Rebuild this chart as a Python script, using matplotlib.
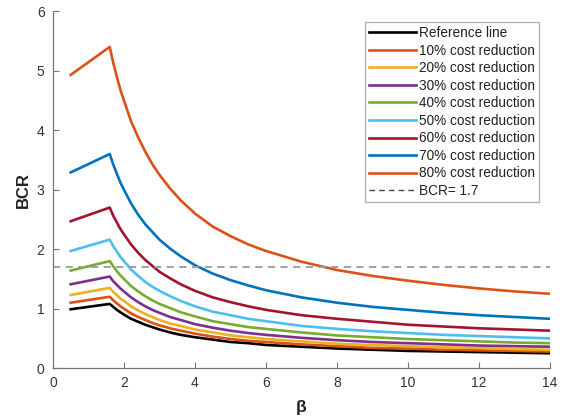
import matplotlib
matplotlib.use('Agg')
import matplotlib.pyplot as plt

plt.rcParams['font.family'] = ['Liberation Sans', 'DejaVu Sans']

# beta values where the curves were read
beta = [0.5, 1.6, 1.7, 1.8, 1.9, 2.0, 2.2, 2.4, 2.6, 2.8, 3.0, 3.3, 3.6, 4.0, 4.5,
        5, 5.5, 6, 7, 8, 9, 10, 11, 12, 13, 14]

# BCR curves
bcr_ref = [0.99, 1.08, 1.03, 0.98, 0.94, 0.90, 0.83, 0.78, 0.73, 0.69, 0.65, 0.60, 0.56, 0.52, 0.48,
           0.44, 0.42, 0.39, 0.36, 0.33, 0.31, 0.29, 0.28, 0.27, 0.26, 0.25]
bcr_10 = [1.10, 1.20, 1.14, 1.09, 1.04, 1.00, 0.92, 0.86, 0.81, 0.76, 0.72, 0.67, 0.63, 0.58, 0.53,
          0.49, 0.46, 0.44, 0.40, 0.37, 0.34, 0.33, 0.31, 0.30, 0.29, 0.28]
bcr_20 = [1.23, 1.35, 1.28, 1.23, 1.17, 1.13, 1.04, 0.97, 0.91, 0.86, 0.81, 0.75, 0.71, 0.65, 0.60,
          0.55, 0.52, 0.49, 0.45, 0.41, 0.39, 0.37, 0.35, 0.34, 0.32, 0.31]
bcr_30 = [1.41, 1.54, 1.46, 1.40, 1.34, 1.29, 1.19, 1.11, 1.04, 0.98, 0.93, 0.86, 0.81, 0.74, 0.68,
          0.63, 0.59, 0.56, 0.51, 0.47, 0.44, 0.42, 0.40, 0.38, 0.37, 0.36]
bcr_40 = [1.64, 1.80, 1.71, 1.63, 1.56, 1.50, 1.38, 1.29, 1.21, 1.14, 1.08, 1.01, 0.94, 0.87, 0.79,
          0.74, 0.69, 0.66, 0.60, 0.55, 0.52, 0.49, 0.47, 0.45, 0.43, 0.42]
bcr_50 = [1.97, 2.16, 2.05, 1.96, 1.87, 1.80, 1.66, 1.55, 1.45, 1.37, 1.30, 1.21, 1.13, 1.04, 0.95,
          0.89, 0.83, 0.79, 0.71, 0.66, 0.62, 0.59, 0.56, 0.54, 0.52, 0.50]
bcr_60 = [2.47, 2.70, 2.56, 2.45, 2.34, 2.25, 2.08, 1.94, 1.82, 1.72, 1.62, 1.51, 1.41, 1.30, 1.19,
          1.11, 1.04, 0.98, 0.89, 0.83, 0.78, 0.73, 0.70, 0.67, 0.65, 0.63]
bcr_70 = [3.29, 3.60, 3.42, 3.27, 3.12, 3.00, 2.77, 2.58, 2.42, 2.29, 2.16, 2.01, 1.88, 1.73, 1.59,
          1.48, 1.39, 1.31, 1.19, 1.10, 1.03, 0.98, 0.93, 0.89, 0.86, 0.83]
bcr_80 = [4.93, 5.40, 5.13, 4.90, 4.68, 4.50, 4.15, 3.88, 3.64, 3.43, 3.25, 3.02, 2.82, 2.60, 2.38,
          2.22, 2.08, 1.97, 1.79, 1.65, 1.55, 1.47, 1.40, 1.34, 1.29, 1.25]

labels = ['Reference line', '10% cost reduction', '20% cost reduction', '30% cost reduction',
          '40% cost reduction', '50% cost reduction', '60% cost reduction', '70% cost reduction',
          '80% cost reduction']
series = [bcr_ref, bcr_10, bcr_20, bcr_30, bcr_40, bcr_50, bcr_60, bcr_70, bcr_80]
colors = ['#000000', '#D95319', '#EDB120', '#7E2F8E', '#77AC30', '#4DBEEE', '#A2142F', '#0072BD', '#D95319']

bcr_threshold = 1.7

fig = plt.figure(figsize=(5.63, 4.16), dpi=100)
ax = fig.add_axes([0.094, 0.115, 0.883, 0.858])

for y, c, lab in zip(series, colors, labels):
    ax.plot(beta, y, color=c, linewidth=1.9, label=lab)

ax.plot([0, 14], [bcr_threshold, bcr_threshold], color='#9a9a9a', linestyle=(0, (4, 3)),
        linewidth=1.3, label='BCR= 1.7')

ax.set_xlim(0, 14)
ax.set_ylim(0, 6)
ax.set_xticks(range(0, 15, 2))
ax.set_yticks(range(0, 7))

for s in ['top', 'right']:
    ax.spines[s].set_visible(False)
for s in ['left', 'bottom']:
    ax.spines[s].set_color('#777777')
    ax.spines[s].set_linewidth(0.9)
ax.tick_params(direction='in', length=4, width=0.8, color='#777777', labelcolor='#333333',
               labelsize=10, pad=6)

ax.set_xlabel('β', fontsize=12.5, fontweight='bold', color='#222222', labelpad=7)
ax.set_ylabel('BCR', fontsize=12, fontweight='bold', color='#222222', labelpad=4)

leg = ax.legend(loc='upper right', bbox_to_anchor=(539 / 563, 1 - 22 / 416),
                bbox_transform=fig.transFigure, fontsize=9.8, frameon=True, fancybox=False,
                handlelength=3.4, handletextpad=0.25, labelspacing=0.26, borderpad=0.3,
                borderaxespad=0)
leg.get_frame().set_edgecolor('#999999')
leg.get_frame().set_linewidth(0.9)
for t in leg.get_texts():
    t.set_color('#222222')
leg.get_lines()[-1].set_color('#444444')
leg.get_lines()[-1].set_linewidth(1.0)

fig.savefig('out.png', dpi=100)
